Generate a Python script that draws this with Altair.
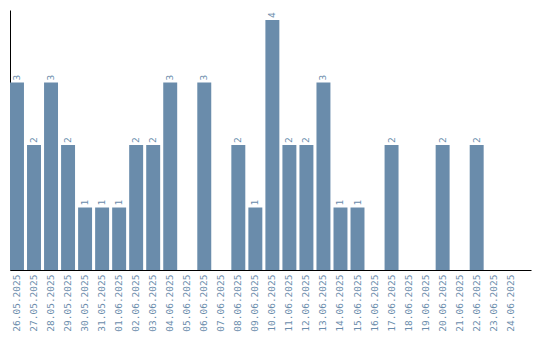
import altair as alt
import pandas as pd

dates = ["26.05.2025", "27.05.2025", "28.05.2025", "29.05.2025", "30.05.2025",
         "31.05.2025", "01.06.2025", "02.06.2025", "03.06.2025", "04.06.2025",
         "05.06.2025", "06.06.2025", "07.06.2025", "08.06.2025", "09.06.2025",
         "10.06.2025", "11.06.2025", "12.06.2025", "13.06.2025", "14.06.2025",
         "15.06.2025", "16.06.2025", "17.06.2025", "18.06.2025", "19.06.2025",
         "20.06.2025", "21.06.2025", "22.06.2025", "23.06.2025", "24.06.2025"]
counts = [3, 2, 3, 2, 1, 1, 1, 2, 2, 3,
          0, 3, 0, 2, 1, 4, 2, 2, 3, 1,
          1, 0, 2, 0, 0, 2, 0, 2, 0, 0]

df = pd.DataFrame({"date": dates, "count": counts})
df["label"] = df["count"].apply(lambda v: str(v) if v > 0 else "")

COLOR = "#6a8cab"

x = alt.X("date:N", sort=dates,
          scale=alt.Scale(paddingInner=0.18, paddingOuter=0.39, align=0),
          axis=alt.Axis(title=None, labelAngle=-90, ticks=False, labelPadding=4,
                        labelFont="DejaVu Sans Mono", labelFontSize=9.5,
                        labelColor=COLOR, domainColor="black", labelAlign="right",
                        labelBaseline="middle"))
y = alt.Y("count:Q", scale=alt.Scale(domain=[0, 4.16], nice=False, zero=True),
          axis=alt.Axis(title=None, labels=False, ticks=False, grid=False,
                        domainColor="black"))

bars = alt.Chart(df).mark_bar(color=COLOR).encode(x=x, y=y)
text = alt.Chart(df).mark_text(angle=270, align="left", baseline="middle", dx=2,
                               font="DejaVu Sans Mono", fontSize=9.5,
                               color=COLOR).encode(x=x, y=y, text="label:N")

chart = (bars + text).properties(
    width=521, height=260,
    autosize=alt.AutoSizeParams(type="none"),
    padding={"left": 10, "top": 10, "right": 9, "bottom": 70},
).configure_view(stroke=None)

chart.save("out.html", embed_options={"renderer": "svg", "actions": False})
